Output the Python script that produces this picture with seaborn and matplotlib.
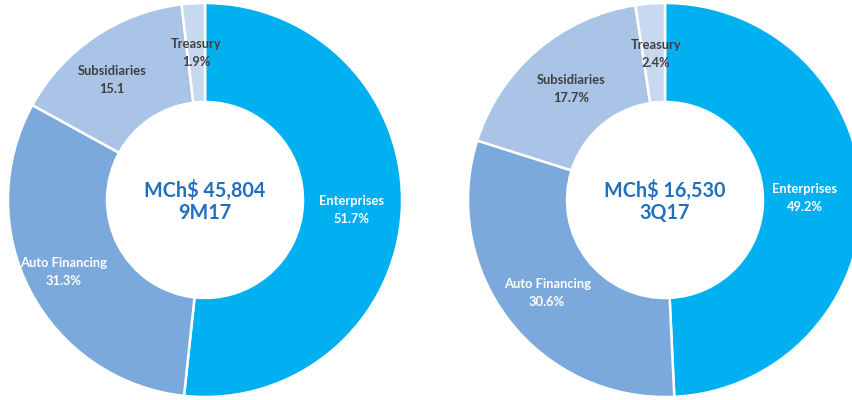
import numpy as np
import matplotlib
matplotlib.use("Agg")
import matplotlib.pyplot as plt
import seaborn as sns

categories = ["Enterprises", "Auto Financing", "Subsidiaries", "Treasury"]
values_9m17 = [51.7, 31.3, 15.1, 1.9]
labels_9m17 = ["51.7%", "31.3%", "15.1", "1.9%"]
values_3q17 = [49.2, 30.6, 17.7, 2.4]
labels_3q17 = ["49.2%", "30.6%", "17.7%", "2.4%"]
center_titles = [("MCh$ 45,804", "9M17"), ("MCh$ 16,530", "3Q17")]

colors = ["#00B0F0", "#7BA9DB", "#A9C4E6", "#C8D8EE"]
text_colors = ["white", "white", "#3F3F3F", "#3F3F3F"]

sns.set_theme(style="white")
plt.rcParams["font.family"] = ["Lato", "DejaVu Sans"]

W, H = 852, 400
fig = plt.figure(figsize=(W / 100, H / 100), dpi=100)
ax = fig.add_axes([0, 0, 1, 1])

R = 197
ring = 99
centers = [(205, 200), (665, 200)]
datasets = [(values_9m17, labels_9m17), (values_3q17, labels_3q17)]
label_r = [[0.75, 0.79, 0.735, 0.745], [0.71, 0.755, 0.74, 0.745]]
label_dx = [[-1, -3, -12, 0], [0, 0, 1, 2]]
label_dy = [[-2, 0, 0, 0], [-1, -2, 0, 0]]

for k, ((cx, cy), (vals, labs)) in enumerate(zip(centers, datasets)):
    ax.pie(vals, colors=colors, startangle=90, counterclock=False,
           radius=R, center=(cx, cy), frame=True,
           wedgeprops=dict(width=ring, edgecolor="white", linewidth=1.8))
    total = sum(vals)
    cum = 0
    for i, (cat, v, lab) in enumerate(zip(categories, vals, labs)):
        mid = (cum + v / 2) / total * 360
        cum += v
        theta = np.deg2rad(90 - mid)
        r = label_r[k][i] * R
        x = cx + r * np.cos(theta) + label_dx[k][i]
        y = cy + r * np.sin(theta) + label_dy[k][i]
        ax.text(x, y, f"{cat}\n{lab}", ha="center", va="center",
                fontsize=9.3, fontweight="bold", color=text_colors[i],
                linespacing=1.6)
    t1, t2 = center_titles[k]
    ax.text(cx, cy + 10, t1, ha="center", va="center", fontsize=14.2,
            fontweight="bold", color="#1F70C1")
    ax.text(cx, cy - 13, t2, ha="center", va="center", fontsize=14.2,
            fontweight="bold", color="#1F70C1")

ax.set_xlim(0, W)
ax.set_ylim(0, H)
ax.set_aspect("equal")
ax.axis("off")
fig.savefig("out.png", dpi=100)
